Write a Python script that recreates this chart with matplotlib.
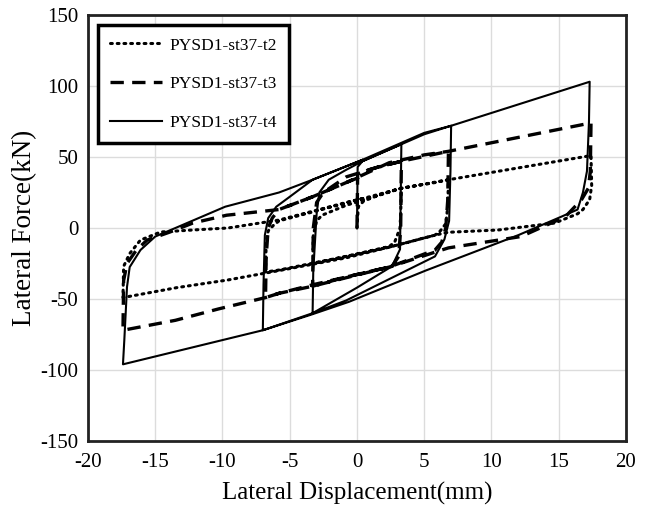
import matplotlib
matplotlib.use('Agg')
import matplotlib.pyplot as plt

# PYSD1-st37-t2 (dotted)
t2_x = [0, 0.1, 0.5, 1.6, 3.3,
        3.25, 3.2, 2.8, 2.4, -0.8, -3.3,
        -3.25, -3.0, -2.6, -0.8, 1.6, 3.3, 5.8, 6.8,
        6.75, 6.6, 6.2, 5.8, 2.6, -0.8, -5.8, -6.8,
        -6.75, -6.6, -6.2, -5.8, -0.8, 3.3, 6.8, 17.4,
        17.45, 17.3, 16.8, 16.4, 14.7, 10.5, 6.8, 5.8, 2.6, -0.8, -5.8, -9.6, -13.4, -17.4,
        -17.35, -16.9, -16.1, -14.6, -12.2, -9.6, -5.8, -0.8, 0.5]
t2_y = [0, 15, 19, 23, 28,
        10, 0, -10, -13, -20, -25,
        -5, 5, 9, 16, 23, 28, 32, 34,
        15, 3, -2, -5, -13, -20, -29.6, -31,
        -10, -2, 2, 5, 17.6, 28, 34, 51,
        30, 20, 13, 10, 3.5, -1.4, -3, -5, -13, -21, -30, -36.6, -42, -49,
        -27, -18, -8.5, -2.8, -1.4, 0, 5.6, 18, 21]

# PYSD1-st37-t3 (dashed)
t3_x = [0, 0.05, 0.5, 1.6, 3.3,
        3.25, 3.1, 2.6, -0.8, -3.3,
        -3.25, -3.0, -2.5, -0.8, 1.6, 3.3, 6.8,
        6.75, 6.6, 6.3, 5.8, 2.4, -0.8, -3.3, -5.8, -6.8,
        -6.75, -6.6, -6.3, -5.8, -3.3, -0.8, 2.4, 5.0, 6.8, 17.4,
        17.35, 17.2, 16.7, 15.5, 12.2, 6.8, 5.8, 2.4, -0.8, -3.3, -5.8, -6.8, -10.3, -13.5, -17.4,
        -17.35, -17.1, -16.4, -15.6, -13.9, -12.2, -9.7, -5.8, -3.3, -0.8, 0.5]
t3_y = [0, 38, 40, 43, 47,
        0, -20, -27, -34.5, -41,
        0, 18, 25, 36, 43, 47, 54,
        20, 0, -10, -15.5, -27.5, -34.5, -40, -46, -49,
        -20, 0, 7, 13, 22, 32, 46, 51.5, 54, 74,
        40, 28, 20, 8, -6, -14, -17, -27.5, -35, -41, -46, -49, -57, -65, -72,
        -37, -25, -15.5, -8.5, -2.8, 3.5, 9, 13, 22, 32, 37]

# PYSD1-st37-t4 (solid)
t4_x = [0, 0.05, 0.4, 3.3,
        3.25, 3.2, 2.6, 0, -3.3,
        -3.25, -3.0, -2.8, -2.1, -0.8, 0.4, 5.0, 7.0,
        6.95, 6.85, 6.5, 5.8, -0.8, -3.3, -7.0,
        -6.95, -6.85, -6.6, -6.0, -5.0, -3.3, 0.4, 5.0, 7.0, 17.3,
        17.25, 17.1, 16.8, 16.4, 15.2, 12.0, 5.1, -0.6, -3.4, -7.0, -17.4,
        -17.3, -17.1, -16.9, -16.1, -15.0, -13.5, -9.8, -5.8, -3.3, 0.4]
t4_y = [0, 43, 47, 59,
        20, -15, -27, -42, -60,
        -30, 10, 25, 34, 41, 47, 66, 72,
        40, 5, -8, -20, -51, -60, -72,
        -40, -5, 7, 15, 22, 34, 48, 67, 72, 103,
        75, 40, 25, 13, 8, -5, -30, -52, -61, -72, -96,
        -79, -41.5, -27.5, -15.5, -6, 0, 15, 25, 34, 48]

x_ticks = [-20, -15, -10, -5, 0, 5, 10, 15, 20]
y_ticks = [-150, -100, -50, 0, 50, 100, 150]

plt.rcParams['font.family'] = ['Liberation Serif', 'DejaVu Serif']
plt.rcParams['axes.unicode_minus'] = False

fig = plt.figure(figsize=(6.48, 5.09), dpi=100)
ax = fig.add_axes([0.1358, 0.1336, 0.8302, 0.8369])

ax.plot(t2_x, t2_y, color='black', lw=2.2, linestyle=(0, (0.6, 1.6)),
        dash_capstyle='round', label='PYSD1-st37-t2')
ax.plot(t3_x, t3_y, color='black', lw=2.4, linestyle=(0, (4, 2.5)),
        label='PYSD1-st37-t3')
ax.plot(t4_x, t4_y, color='black', lw=1.5, label='PYSD1-st37-t4')

ax.set_xlim(-20, 20)
ax.set_ylim(-150, 150)
ax.set_xticks(x_ticks)
ax.set_yticks(y_ticks)
ax.tick_params(length=0, labelsize=15)
ax.tick_params(axis='y', pad=7)
ax.tick_params(axis='x', pad=9)
ax.grid(True, color='#dcdcdc', lw=1)
ax.set_axisbelow(True)
for s in ax.spines.values():
    s.set_linewidth(2)
    s.set_color('#222222')

ax.set_xlabel('Lateral Displacement(mm)', fontsize=18, labelpad=7)
ax.set_ylabel('Lateral Force(kN)', fontsize=19.5, labelpad=2)

leg = ax.legend(loc='upper left', bbox_to_anchor=(0.019, 0.976), borderaxespad=0,
                fontsize=12.5, handlelength=3, labelspacing=1.3, borderpad=0.7,
                handletextpad=0.4, fancybox=False, framealpha=1)
leg.get_frame().set_edgecolor('black')
leg.get_frame().set_linewidth(2.5)

plt.savefig('out.png', dpi=100)
